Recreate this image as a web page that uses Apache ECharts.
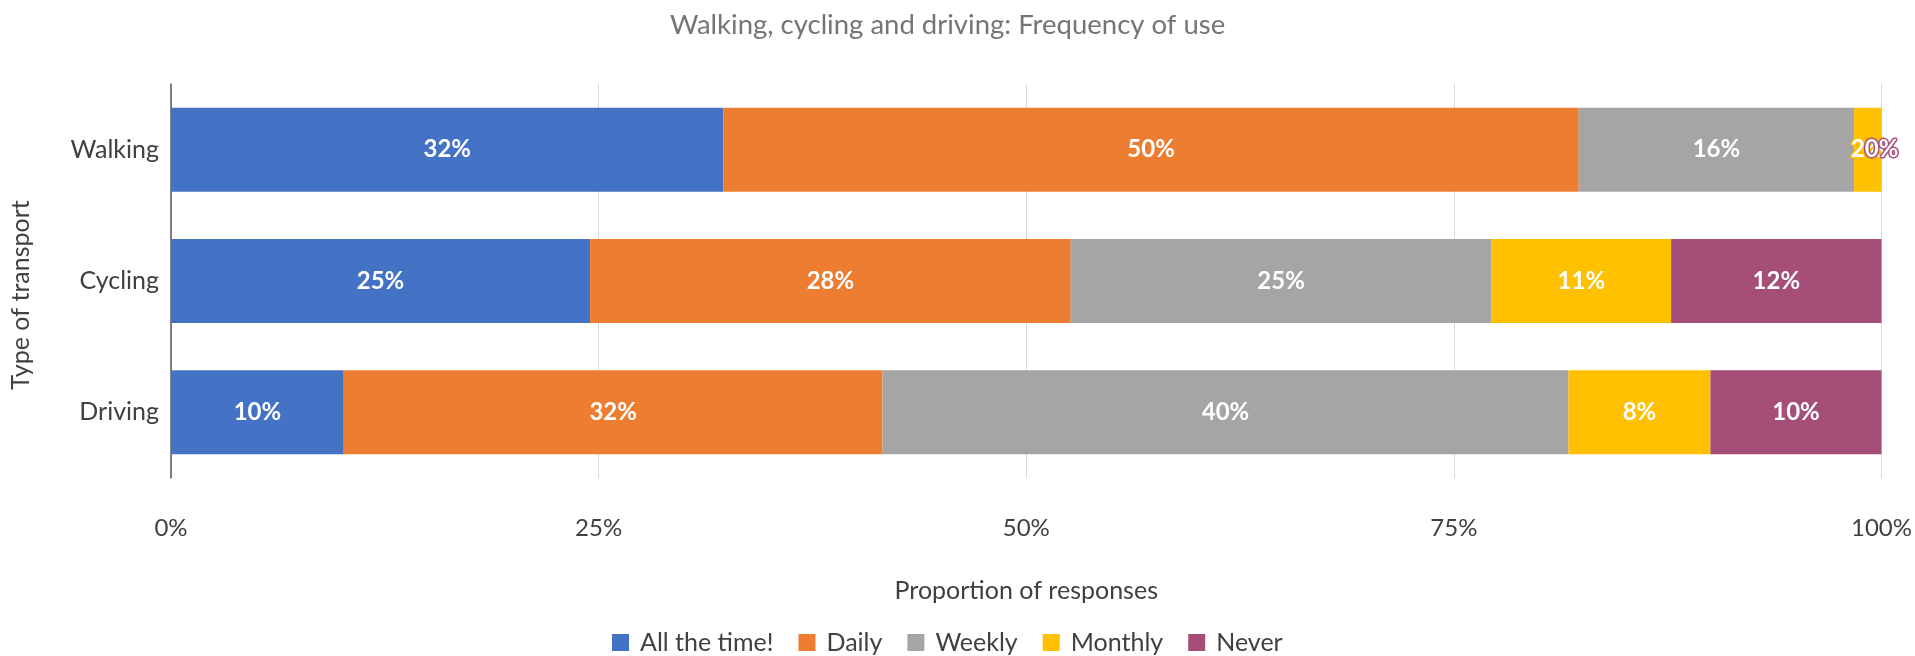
<!DOCTYPE html>
<html>
<head>
<meta charset="utf-8">
<script src="https://cdn.jsdelivr.net/npm/echarts@6/dist/echarts.min.js"></script>
<style>
  html, body { margin: 0; padding: 0; background: #fff; }
  #chart { width: 1915px; height: 656px; }
</style>
</head>
<body>
<div id="chart"></div>
<script>
var categories = ['Walking', 'Cycling', 'Driving'];
var seriesNames = ['All the time!', 'Daily', 'Weekly', 'Monthly', 'Never'];
// proportions (%) per category
var allTheTime = [32.3, 24.5, 10.1];
var daily      = [50.0, 28.1, 31.5];
var weekly     = [16.1, 24.6, 40.1];
var monthly    = [1.6, 10.5, 8.3];
var never      = [0, 12.3, 10.0];
var xTicks = ['0%', '25%', '50%', '75%', '100%'];
var colors = ['#4472C4', '#ED7D31', '#A5A5A5', '#FFC000', '#A54E78'];

var font = 'Lato, "Open Sans", sans-serif';
var myChart = echarts.init(document.getElementById('chart'));
var allData = [allTheTime, daily, weekly, monthly, never];

var series = seriesNames.map(function (name, i) {
  return {
    name: name,
    type: 'bar',
    stack: 'total',
    barCategoryGap: '36%',
    data: allData[i],
    itemStyle: { color: colors[i] },
    label: {
      show: true,
      position: 'inside',
      color: '#fff',
      fontFamily: font,
      fontSize: 24,
      fontWeight: 'bold',
      textBorderColor: colors[i],
      textBorderWidth: 3,
      formatter: function (p) { return Math.round(p.value) + '%'; }
    },
    emphasis: { disabled: true }
  };
});

var option = {
  backgroundColor: '#fff',
  animation: false,
  title: {
    text: 'Walking, cycling and driving: Frequency of use',
    left: 665,
    top: 6,
    textStyle: { color: '#757575', fontFamily: font, fontSize: 27.5, fontWeight: 'normal' }
  },
  legend: {
    top: 625,
    left: 607,
    itemWidth: 17,
    itemHeight: 17,
    itemGap: 25,
    icon: 'rect',
    textStyle: { color: '#404040', fontFamily: font, fontSize: 25, padding: [0, 0, 0, 6] },
    data: seriesNames
  },
  grid: { left: 170, right: 33, top: 84, bottom: 178, containLabel: false },
  xAxis: {
    type: 'value',
    min: 0,
    max: 100,
    interval: 25,
    name: 'Proportion of responses',
    nameLocation: 'middle',
    nameGap: 100,
    nameTextStyle: { color: '#404040', fontFamily: font, fontSize: 25 },
    axisLine: { show: false },
    axisTick: { show: false },
    splitLine: { lineStyle: { color: '#D9D9D9', width: 1 } },
    axisLabel: {
      color: '#404040',
      fontFamily: font,
      fontSize: 24,
      margin: 38,
      formatter: function (v) { return xTicks[v / 25]; }
    }
  },
  yAxis: {
    type: 'category',
    data: categories,
    inverse: true,
    name: 'Type of transport',
    nameLocation: 'middle',
    nameRotate: 90,
    nameGap: 138,
    nameTextStyle: { color: '#404040', fontFamily: font, fontSize: 25, padding: [0, 28, 0, 0] },
    axisLine: { show: true, lineStyle: { color: '#595959', width: 1.5 } },
    axisTick: { show: false },
    axisLabel: { color: '#404040', fontFamily: font, fontSize: 25, margin: 12 }
  },
  series: series
};

myChart.setOption(option);
</script>
</body>
</html>
